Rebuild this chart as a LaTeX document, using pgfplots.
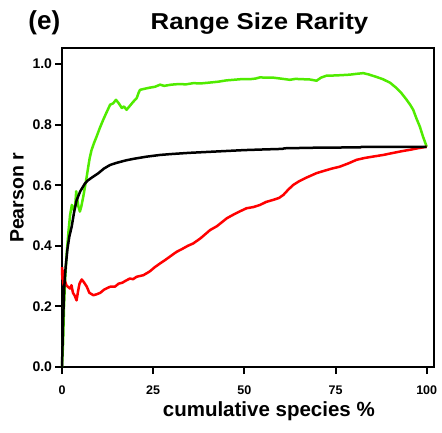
\documentclass[border=0pt]{standalone}
\usepackage{pgfplots}
\pgfplotsset{compat=1.18}
\usepackage{graphicx}
\usepackage{fontspec}
\setmainfont{Liberation Sans}
\definecolor{lgreen}{RGB}{80,235,0}
\definecolor{lred}{RGB}{255,0,0}
\begin{document}
\begin{tikzpicture}[x=1pt,y=1pt]
\path[use as bounding box] (-62,-65) rectangle (380,367);
\begin{axis}[
  at={(0,0)}, anchor=south west,
  scale only axis, width=372pt, height=319pt,
  xmin=0, xmax=102, ymin=0, ymax=1.053,
  xtick={0,25,50,75,100},
  ytick={0,0.2,0.4,0.6,0.8,1.0},
  tick pos=left, tick align=outside,
  major tick length=7pt,
  minor tick num=0,
  axis line style={line width=2.4pt},
  every tick/.style={line width=2pt, black},
  /pgf/number format/assume math mode=true,
  yticklabel style={font=\fontsize{14}{15}\selectfont\bfseries, xshift=0.5pt,
     /pgf/number format/.cd, fixed, fixed zerofill, precision=1},
  xticklabel style={font=\fontsize{12.5}{13}\selectfont\bfseries, yshift=-8pt},
  scaled ticks=false,
  clip=false,
]
\addplot[color=lgreen, line width=2.5pt, line join=round] coordinates {
(0,0.0)(0.15,0.04)(0.3,0.08)(0.55,0.20)(0.9,0.30)(1.3,0.376)(1.8,0.45)(2.2,0.50)
(2.7,0.535)(3.1,0.52)(3.6,0.529)(3.9,0.58)(4.1,0.56)(4.5,0.53)(4.9,0.513)(5.3,0.53)
(5.8,0.56)(6.3,0.595)(6.8,0.63)(7.2,0.661)(7.6,0.69)(8.1,0.716)(8.8,0.74)(9.5,0.761)
(10.4,0.79)(11.3,0.816)(12.2,0.84)(13.2,0.866)(14.0,0.87)(14.8,0.882)(15.6,0.87)
(16.4,0.855)(17.0,0.86)(17.7,0.849)(18.6,0.862)(19.5,0.875)(20.5,0.888)(21.0,0.905)
(21.4,0.915)(22.5,0.918)(24,0.922)(25.5,0.925)(26.9,0.932)(28,0.928)(30,0.932)
(32,0.934)(34,0.933)(36,0.937)(38,0.936)(40.6,0.939)(43,0.942)(45,0.946)(47,0.948)
(49,0.950)(51.5,0.950)(53,0.952)(54.3,0.956)(56,0.955)(58,0.955)(60,0.952)(62.5,0.948)
(64,0.951)(66,0.950)(68,0.949)(69.8,0.945)(71,0.955)(72.6,0.962)(74,0.962)(76,0.963)
(78.9,0.965)(81,0.968)(82.6,0.970)(84,0.966)(86.1,0.958)(88,0.950)(90,0.938)
(91.7,0.921)(93,0.905)(94.5,0.882)(95.5,0.865)(96.3,0.849)(97.2,0.82)(98.1,0.794)
(99,0.76)(100,0.727)
};
\addplot[color=lred, line width=2.5pt, line join=round] coordinates {
(0,0.33)(0.1,0.29)(0.2,0.32)(0.3,0.28)(0.5,0.27)(0.8,0.285)(1.2,0.27)(1.6,0.265)
(2.2,0.259)(2.6,0.27)(3.0,0.245)(3.5,0.235)(4.0,0.22)(4.4,0.25)(4.8,0.275)(5.4,0.289)
(6.0,0.28)(6.8,0.265)(7.5,0.245)(8.6,0.237)(9.5,0.24)(10.5,0.245)(11.5,0.255)
(12.3,0.26)(13.2,0.265)(14.5,0.265)(15.5,0.275)(16.5,0.278)(17.5,0.285)(18.6,0.292)
(19.5,0.29)(20.5,0.298)(22.3,0.303)(24,0.315)(25.5,0.33)(26.9,0.342)(28.5,0.355)
(30,0.368)(31.4,0.38)(33,0.39)(34.5,0.40)(36,0.408)(38,0.425)(40.6,0.452)(42.5,0.465)
(45.2,0.491)(47,0.503)(49,0.515)(50.6,0.524)(52.5,0.528)(54.3,0.535)(56,0.545)
(58,0.552)(59.5,0.558)(60.7,0.568)(62,0.585)(63.4,0.601)(65,0.613)(67,0.625)
(69.8,0.640)(72,0.648)(74,0.655)(76.1,0.661)(78.5,0.672)(80.8,0.684)(83,0.690)
(85.5,0.695)(88.1,0.700)(90.5,0.706)(93,0.712)(95.4,0.717)(97.5,0.722)(100,0.727)
};
\addplot[color=black, line width=2.5pt, line join=round] coordinates {
(0,0.0)(0.3,0.15)(0.6,0.26)(1,0.33)(1.5,0.39)(2,0.43)(2.65,0.463)(3.3,0.51)(4,0.55)
(5,0.58)(6.3,0.606)(7,0.615)(8.5,0.628)(10,0.64)(11.5,0.655)(13.2,0.667)(15,0.674)
(17.5,0.682)(20,0.688)(23,0.694)(26.9,0.700)(30,0.703)(35,0.707)(40,0.710)(45,0.713)
(50,0.716)(55,0.718)(60.5,0.720)(61,0.722)(70,0.724)(81.8,0.725)(82.2,0.727)
(90,0.727)(100,0.727)
};
\node[anchor=base, font=\fontsize{23}{24}\selectfont\bfseries] at (axis description cs:0.531,1.0586) {\scalebox{1.12}[1]{Range Size Rarity}};
\node[anchor=base west, inner sep=0pt, font=\fontsize{26}{27}\selectfont\bfseries] at (axis description cs:-0.0906,1.0586) {(e)};
\node[anchor=base, font=\fontsize{20.5}{21}\selectfont\bfseries] at (axis description cs:0.556,-0.1558) {cumulative species \%};
\node[rotate=90, anchor=center, font=\fontsize{19.5}{20}\selectfont\bfseries] at (axis description cs:-0.121,0.53) {Pearson r};
\end{axis}
\end{tikzpicture}
\end{document}
